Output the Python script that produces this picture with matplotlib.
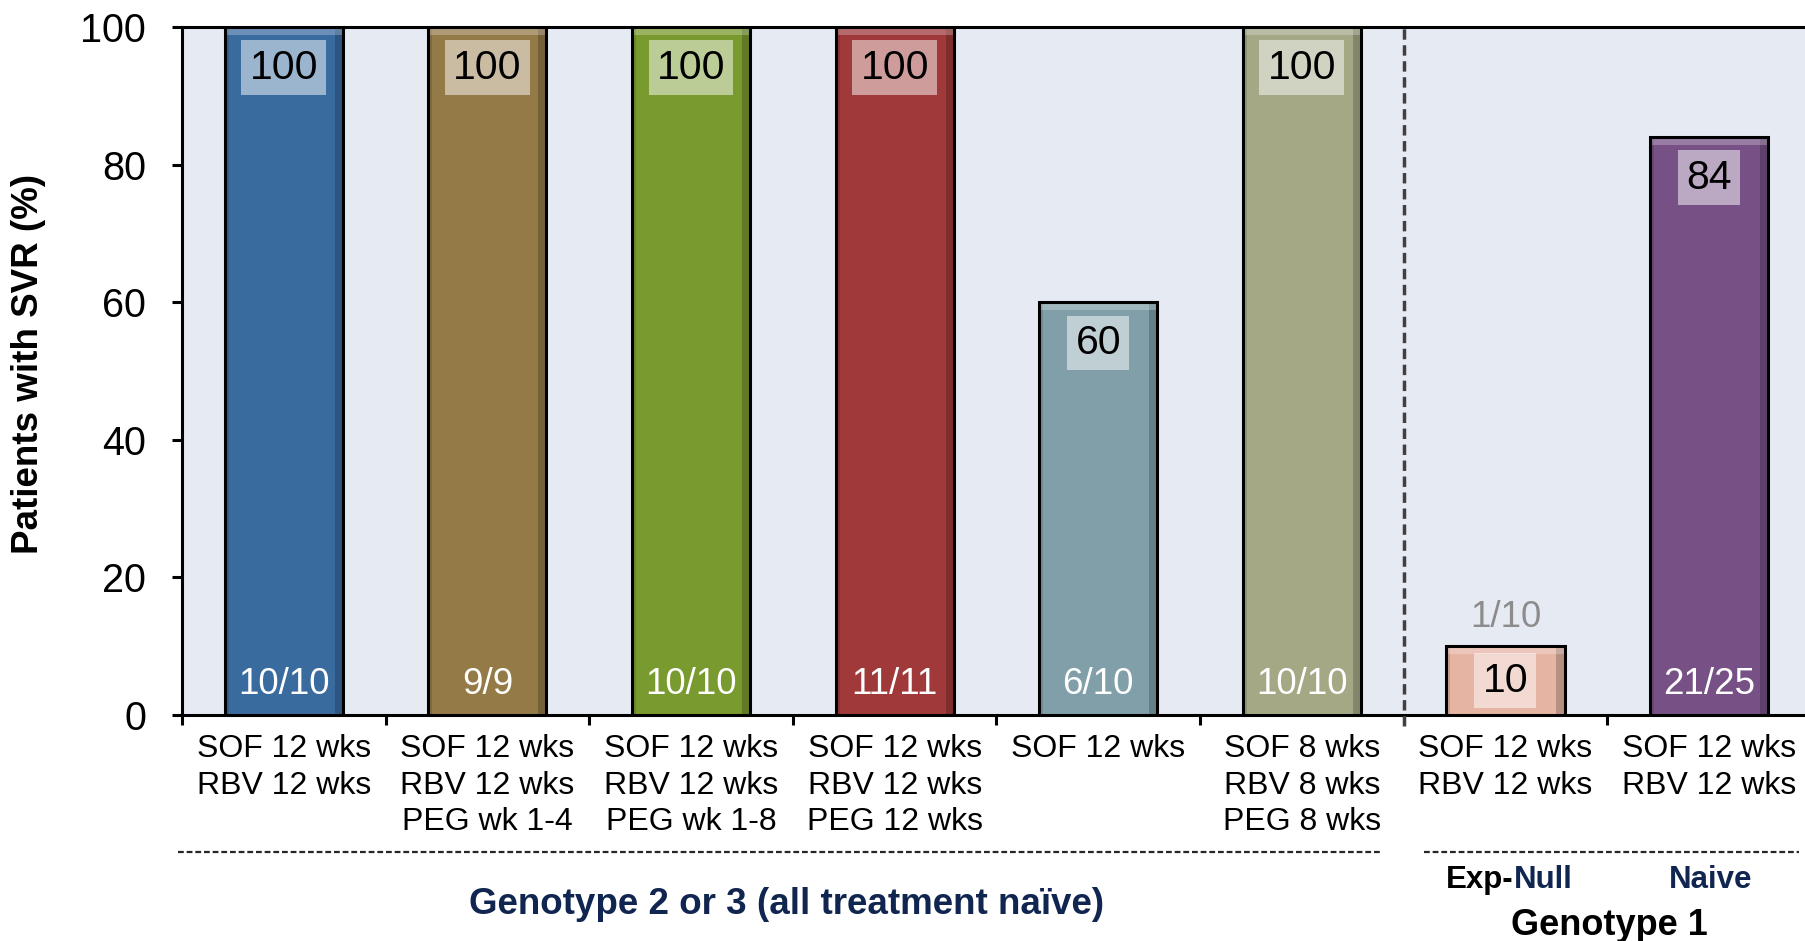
import matplotlib
matplotlib.use("Agg")
from matplotlib import pyplot as plt

plt.rcParams['font.family'] = ['Liberation Sans', 'DejaVu Sans']

# data
regimens = [
    "SOF 12 wks\nRBV 12 wks",
    "SOF 12 wks\nRBV 12 wks\nPEG wk 1-4",
    "SOF 12 wks\nRBV 12 wks\nPEG wk 1-8",
    "SOF 12 wks\nRBV 12 wks\nPEG 12 wks",
    "SOF 12 wks",
    "SOF 8 wks\nRBV 8 wks\nPEG 8 wks",
    "SOF 12 wks\nRBV 12 wks",
    "SOF 12 wks\nRBV 12 wks",
]
svr = [100, 100, 100, 100, 60, 100, 10, 84]
fractions = ["10/10", "9/9", "10/10", "11/11", "6/10", "10/10", "1/10", "21/25"]
bar_colors = ["#3A6B9F", "#937A47", "#789A2E", "#A0393A",
              "#809FA9", "#A4A885", "#E6B4A3", "#775186"]

navy = "#10254F"
bar_w = 0.58

fig = plt.figure(figsize=(18.06, 9.41), dpi=100)
ax = fig.add_axes([182 / 1806, 1 - 715 / 941, 1 - 182 / 1806, (715 - 27) / 941])
ax.set_facecolor("#E6EAF3")

x = list(range(len(svr)))
bars = ax.bar(x, svr, width=bar_w, color=bar_colors, edgecolor="none", zorder=3)

# soft bevel: darker right edge, lighter top edge
bev = 0.04
ax.bar([i + bar_w / 2 - bev / 2 for i in x], svr, width=bev, color="black",
       alpha=0.2, zorder=3.2)
ax.bar([i - bar_w / 2 + bev / 4 for i in x], svr, width=bev / 2, color="black",
       alpha=0.12, zorder=3.2)
ax.bar(x, [1.1] * len(x), bottom=[v - 1.1 for v in svr], width=bar_w,
       color="white", alpha=0.25, zorder=3.2)
ax.bar(x, svr, width=bar_w, fill=False, edgecolor="black", linewidth=2.2, zorder=3.5)

ax.set_xlim(-0.5, 7.476)
ax.set_ylim(0, 100)

# value labels in translucent boxes
for i, (b, v) in enumerate(zip(bars, svr)):
    cx = b.get_x() + b.get_width() / 2
    if v < 20:
        ax.text(cx, v / 2, str(v), ha="center", va="center", fontsize=29.5, zorder=5,
                bbox=dict(boxstyle="square,pad=0.2", fc="white", ec="none", alpha=0.5))
        ax.text(cx, v + 4.2, fractions[i], ha="center", va="center", fontsize=26.5,
                color="#8C8C8C", zorder=5)
    else:
        ax.annotate(str(v), xy=(cx, v), xytext=(0, -15.5), textcoords="offset points",
                    ha="center", va="top", fontsize=29.5, zorder=5,
                    bbox=dict(boxstyle="square,pad=0.2", fc="white", ec="none", alpha=0.5))
        ax.text(cx, 4.5, fractions[i], ha="center", va="center", fontsize=26.5,
                color="white", zorder=5)

# axes styling
ax.spines["right"].set_visible(False)
for s in ["left", "bottom", "top"]:
    ax.spines[s].set_linewidth(2.2)
ax.set_yticks([0, 20, 40, 60, 80, 100])
ax.tick_params(axis="y", labelsize=28.5, length=7, width=2.2, pad=19)
ax.set_xticks(x)
ax.set_xticklabels(regimens, fontsize=23, linespacing=1.28, va="top")
ax.tick_params(axis="x", which="major", length=0, pad=14)
ax.set_xticks([i - 0.5 for i in range(8)], minor=True)
ax.tick_params(axis="x", which="minor", length=7, width=2.2, direction="out")

# separator between genotype groups
ax.plot([5.5, 5.5], [-1.6, 100], color="#404040", lw=2.5, ls=(0, (3, 1.6)),
        clip_on=False, zorder=4)

# group underline dashes
ax.plot([-0.52, 5.39], [-19.9, -19.9], color="#262626", lw=1.6, ls=(0, (2.6, 1.3)), clip_on=False)
ax.plot([5.6, 7.44], [-19.9, -19.9], color="#262626", lw=1.6, ls=(0, (2.6, 1.3)), clip_on=False)

ax.text(2.47, -27.6, "Genotype 2 or 3 (all treatment naïve)", ha="center", va="center",
        fontsize=26.5, fontweight="bold", color=navy, clip_on=False)
ax.text(6.04, -24.0, "Exp-", ha="right", va="center", fontsize=22.5,
        fontweight="bold", color="black", clip_on=False)
ax.text(6.04, -24.0, "Null", ha="left", va="center", fontsize=22.5,
        fontweight="bold", color=navy, clip_on=False)
ax.text(7.01, -24.0, "Naive", ha="center", va="center", fontsize=22.5,
        fontweight="bold", color=navy, clip_on=False)
ax.text(6.51, -30.6, "Genotype 1", ha="center", va="center", fontsize=26,
        fontweight="bold", color="black", clip_on=False)

fig.text(29 / 1806, 0.613, "Patients with SVR (%)", rotation=90, ha="center", va="center",
         fontsize=26.5, fontweight="bold")

fig.savefig("out.png", dpi=100)
